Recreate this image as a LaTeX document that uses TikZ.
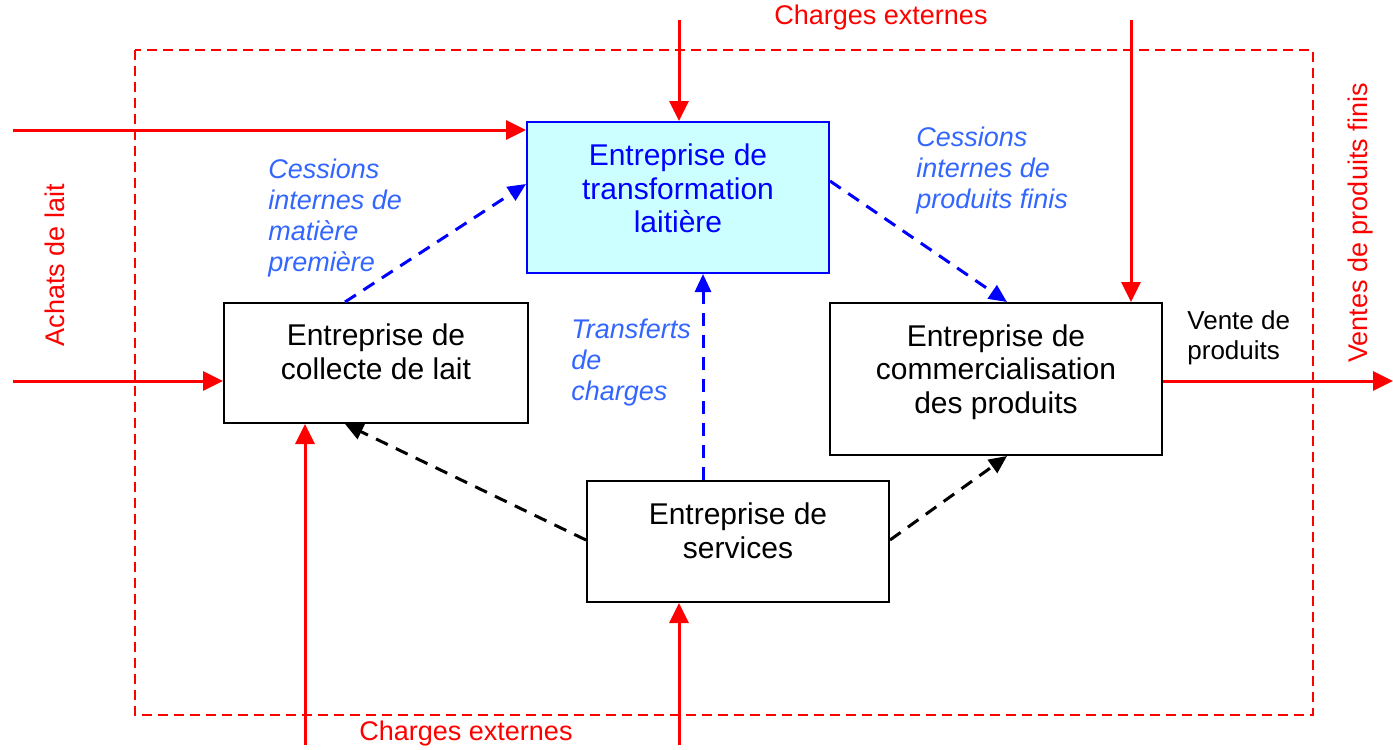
\documentclass[tikz,border=0pt]{standalone}
\usepackage{fontspec}
\setmainfont{Liberation Sans}
\usetikzlibrary{arrows.meta,calc}
\definecolor{lblue}{HTML}{3366FF}
\definecolor{cyanfill}{HTML}{CCFFFF}
\begin{document}
\begin{tikzpicture}[x=0.5pt,y=-0.5pt,
  box/.style={draw=black, line width=1pt, inner sep=0pt, fill=white},
  boxtext/.style={align=center, inner sep=0pt, font=\fontsize{15pt}{16.8pt}\selectfont},
  lab/.style={align=left, inner sep=0pt, text=lblue, font=\fontsize{13.5pt}{15.5pt}\selectfont\itshape},
  redtxt/.style={inner sep=0pt, text=red, font=\fontsize{13.5pt}{15.5pt}\selectfont},
  blacktxt/.style={align=left, inner sep=0pt, font=\fontsize{13pt}{15pt}\selectfont},
  frame/.style={draw=red, line width=1.2pt, dash pattern=on 5pt off 3pt},
  redarr/.style={draw=red, line width=1.5pt, -{Triangle[length=10pt,width=9.5pt]}},
  bluedash/.style={draw=blue, line width=1.5pt, dash pattern=on 6.5pt off 4.5pt, -{Triangle[length=9pt,width=8pt]}},
  blackdash/.style={draw=black, line width=1.5pt, dash pattern=on 6.5pt off 4.5pt, -{Triangle[length=9pt,width=8pt]}}
]
\useasboundingbox (0,0) rectangle (1393,750);

% frame
\draw[frame] (135,50) rectangle (1313,715);

% boxes
\node[box, draw=blue, fill=cyanfill, minimum width=151pt, minimum height=75.5pt] (trans) at (678,197.5) {};
\node[box, minimum width=152pt, minimum height=60pt] (collecte) at (376,363) {};
\node[box, minimum width=166pt, minimum height=76pt] (comm) at (996,379) {};
\node[box, minimum width=151pt, minimum height=60.5pt] (services) at (738,541.5) {};

\node[boxtext, text=blue] (transtxt) at ($(trans.center)+(0,-9)$) {Entreprise de\\transformation\\laitière};
\node[boxtext] (collectetxt) at ($(collecte.center)+(0,-11)$) {Entreprise de\\collecte de lait};
\node[boxtext] (commtxt) at ($(comm.center)+(0,-7)$) {Entreprise de\\commercialisation\\des produits};
\node[boxtext] (servicestxt) at ($(services.center)+(0,-11)$) {Entreprise de\\services};

% red external flows
\coordinate (a1) at (679,20);
\coordinate (a2) at (1131,20);
\coordinate (a3) at (13,130);
\coordinate (a4) at (13,381);
\coordinate (a5) at (305,745);
\coordinate (a6) at (679,745);
\coordinate (a7) at (1393,381);
\draw[redarr] (a1) -- (a1 |- trans.north);
\draw[redarr] (a2) -- (a2 |- comm.north);
\draw[redarr] (a3) -- (a3 -| trans.west);
\draw[redarr] (a4) -- (a4 -| collecte.west);
\draw[redarr] (a5) -- (a5 |- collecte.south);
\draw[redarr] (a6) -- (a6 |- services.south);
\draw[redarr] (a7 -| comm.east) -- (a7);

% internal flows
\draw[bluedash] ($(collecte.north west)+(122,0)$) -- ($(trans.north west)+(0,63)$);
\draw[bluedash] ($(trans.north east)+(0,60)$) -- ($(comm.north west)+(178,0)$);
\draw[bluedash] ($(services.north west)+(117,0)$) -- ($(trans.south west)+(177,0)$);
\draw[blackdash] ($(services.north west)+(0,60)$) -- ($(collecte.south west)+(122,0)$);
\draw[blackdash] ($(services.north east)+(0,60)$) -- ($(comm.south west)+(178,0)$);

% labels
\node[lab, anchor=north west] (l1) at (268,159) {Cessions\\internes de\\matière\\première};
\node[lab, anchor=north west] (l2) at (916,127) {Cessions\\internes de\\produits finis};
\node[lab, anchor=north west] (l3) at (571,319) {Transferts\\de\\charges};
\node[blacktxt, anchor=north west] (l4) at (1187,310) {Vente de\\produits};
\node[redtxt] (t1) at (881,18) {Charges externes};
\node[redtxt] (t2) at (466,734) {Charges externes};
\node[redtxt, rotate=90] (t3) at (55,265) {Achats de lait};
\node[redtxt, rotate=90] (t4) at (1361,223) {Ventes de produits finis};
\end{tikzpicture}
\end{document}
